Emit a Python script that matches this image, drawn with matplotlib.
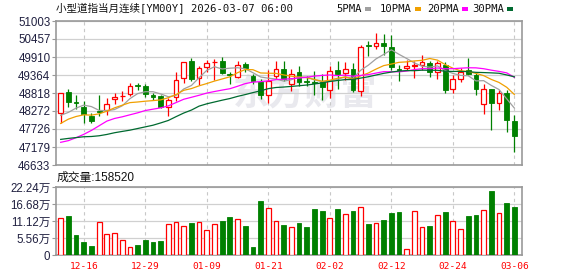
import numpy as np
import matplotlib
matplotlib.use('Agg')
from matplotlib import pyplot as plt
from matplotlib.patches import Rectangle

plt.rcParams['font.family'] = ['Liberation Sans', 'Noto Sans CJK SC']

# daily candles, oldest first
opens = [48196, 48839, 48537, 48407, 48115, 48256, 48296, 48638, 48718, 48799,
         49070, 49020, 48769, 48718, 48397, 48708, 49271, 49774, 49271, 49603,
         49744, 49774, 49402, 49301, 49683, 49321, 49140, 48769, 49331, 49533,
         49080, 49452, 49181, 49151, 49161, 48909, 49502, 49422, 49533, 48889,
         50276, 50236, 50336, 50216, 49543, 49563, 49633, 49663, 49723, 49462,
         49653, 48950, 49251, 49502, 49362, 48487, 48950, 48527, 48809, 47965]
highs = [48829, 48929, 48769, 48568, 48196, 48749, 48658, 48809, 48869, 49130,
         49120, 49080, 48809, 48749, 48678, 49462, 49764, 49884, 49633, 49814,
         49854, 49924, 49452, 49794, 49754, 49382, 49231, 49502, 49804, 49784,
         49542, 49633, 49331, 49482, 49382, 49633, 49784, 49764, 49723, 50286,
         50387, 50638, 50608, 50568, 49653, 49834, 49794, 49985, 49784, 49784,
         49754, 49352, 49583, 49884, 49432, 49100, 48950, 48899, 48899, 48136]
lows = [47894, 48397, 48326, 47905, 47914, 48125, 48156, 48497, 48568, 48728,
        48919, 48698, 48598, 48367, 48125, 48578, 49130, 49171, 49050, 49452,
        49221, 49382, 49080, 49281, 49452, 49100, 48628, 48527, 49231, 49181,
        48879, 49030, 49030, 48749, 48608, 48678, 48929, 49221, 48849, 48728,
        49934, 50145, 49985, 49512, 49181, 49502, 49261, 49502, 49311, 49251,
        48829, 48829, 49161, 49372, 48749, 48186, 47703, 48306, 47643, 47040]
closes = [48829, 48548, 48517, 48176, 47955, 48256, 48497, 48698, 48738, 49040,
          49020, 48789, 48698, 48397, 48618, 49221, 49764, 49231, 49583, 49733,
          49764, 49422, 49352, 49653, 49573, 49171, 48769, 49171, 49533, 49251,
          49382, 49161, 49161, 49130, 49000, 49482, 49382, 49553, 48899, 50216,
          50256, 50336, 50236, 49603, 49522, 49623, 49663, 49744, 49452, 49723,
          48909, 49231, 49452, 49392, 48939, 48950, 48507, 48829, 47985, 47522]
# volume in 万
volumes = [12.0, 12.75, 6.54, 4.25, 2.94, 10.68, 6.76, 7.08, 4.79, 2.5,
           3.27, 4.79, 4.25, 4.58, 10.0, 10.68, 9.37, 10.46, 10.68, 8.06,
           10.0, 11.12, 12.42, 11.66, 9.48, 2.62, 17.65, 15.25, 11.0, 9.8,
           9.15, 10.46, 9.15, 15.04, 14.38, 12.0, 15.04, 13.29, 14.38, 15.58,
           10.13, 10.35, 11.44, 13.73, 14.06, 1.85, 14.28, 9.15, 9.48, 12.97,
           14.06, 11.0, 8.39, 12.75, 13.08, 14.6, 20.92, 13.62, 17.0, 15.852]

ma5 = [48140, 48230, 48360, 48450, 48405, 48290, 48280, 48316, 48429, 48646,
       48799, 48857, 48857, 48789, 48704, 48745, 48940, 49046, 49283, 49506,
       49615, 49547, 49571, 49585, 49553, 49434, 49304, 49267, 49243, 49179,
       49221, 49300, 49298, 49217, 49167, 49187, 49231, 49309, 49263, 49506,
       49661, 49852, 49989, 50129, 49991, 49864, 49729, 49631, 49601, 49641,
       49498, 49412, 49353, 49341, 49185, 49193, 49048, 48923, 48642, 48359]
ma10 = [47894, 48025, 48105, 48156, 48146, 48186, 48266, 48367, 48447, 48526,
        48545, 48569, 48587, 48609, 48675, 48772, 48899, 48952, 49036, 49105,
        49180, 49244, 49309, 49434, 49530, 49525, 49426, 49419, 49414, 49366,
        49328, 49302, 49283, 49230, 49173, 49204, 49266, 49304, 49240, 49337,
        49424, 49542, 49649, 49696, 49749, 49763, 49791, 49810, 49865, 49816,
        49681, 49571, 49492, 49471, 49413, 49346, 49230, 49138, 48992, 48772]
ma20 = [47321, 47372, 47462, 47563, 47683, 47824, 47965, 48045, 48095, 48156,
        48216, 48286, 48327, 48367, 48427, 48527, 48628, 48688, 48749, 48816,
        48863, 48907, 48948, 49022, 49103, 49149, 49163, 49186, 49225, 49236,
        49254, 49273, 49296, 49332, 49352, 49365, 49346, 49362, 49327, 49352,
        49376, 49422, 49466, 49463, 49461, 49484, 49529, 49557, 49553, 49577,
        49553, 49557, 49571, 49584, 49581, 49555, 49511, 49474, 49429, 49294]
ma30 = [47410, 47440, 47465, 47490, 47498, 47520, 47560, 47612, 47652, 47690,
        47740, 47790, 47840, 47910, 47985, 48100, 48210, 48300, 48420, 48490,
        48545, 48600, 48650, 48715, 48770, 48830, 48885, 48950, 48985, 48999,
        49018, 49038, 49060, 49091, 49126, 49167, 49197, 49225, 49230, 49270,
        49311, 49363, 49414, 49453, 49484, 49498, 49495, 49511, 49507, 49507,
        49478, 49472, 49475, 49466, 49445, 49438, 49429, 49417, 49366, 49308]

tick_idx = [3, 11, 19, 27, 35, 43, 51, 59]
tick_labels = ['12-16', '12-29', '01-09', '01-21', '02-02', '02-12', '02-24', '03-06']
price_ticks = [46633, 47179, 47726, 48272, 48818, 49364, 49910, 50457, 51003]
vol_ticks = [0, 5.56, 11.12, 16.68, 22.24]
vol_labels = ['0', '5.56万', '11.12万', '16.68万', '22.24万']

RED = '#ff0000'
GREEN = '#008000'
C5, C10, C20, C30 = '#a0a0a0', '#f0a000', '#ff00ff', '#006a30'
W = 578
H = 276

o = np.array(opens, float)
h = np.array(highs, float)
l = np.array(lows, float)
c = np.array(closes, float)
x = np.arange(len(c))
up = c > o
dn = ~up

fig = plt.figure(figsize=(W / 100, H / 100), dpi=100)
ax = fig.add_axes([56 / W, 1 - 165 / H, 466 / W, 144 / H])
axv = fig.add_axes([56 / W, 1 - 255 / H, 466 / W, 68 / H], sharex=ax)

for a in (ax, axv):
    for s in a.spines.values():
        s.set_color('#999999')
        s.set_linewidth(1.2)
    a.set_xticks(tick_idx)
    a.grid(axis='x', color='#c8c8c8', linestyle=(0, (3, 3)), linewidth=0.8)
    a.grid(axis='y', color='#d0d0d0', linestyle='-', linewidth=0.9)
    a.set_axisbelow(True)
    a.tick_params(axis='x', length=0)
    a.tick_params(axis='y', length=3, color='#999999', labelsize=8.3,
                  labelcolor='#202040', pad=1)

ax.set_xlim(-0.61, 59.99)
ax.set_ylim(price_ticks[0], price_ticks[-1])
ax.set_yticks(price_ticks)
ax.set_yticklabels([str(t) for t in price_ticks])
ax.tick_params(axis='x', labelbottom=False)

ax.text(0.534, 0.49, '东方财富', transform=ax.transAxes, ha='center', va='center',
        fontsize=26, color='#e9e9ee', fontweight='bold',
        family=['Noto Sans CJK SC'], zorder=0)

bw = 0.62
# wicks
ax.vlines(x[dn], l[dn], h[dn], color=GREEN, linewidth=0.9, zorder=2)
ax.vlines(x[up], c[up], h[up], color=RED, linewidth=0.9, zorder=2)
ax.vlines(x[up], l[up], o[up], color=RED, linewidth=0.9, zorder=2)
# bodies
ax.bar(x[up], c[up] - o[up], bottom=o[up], width=bw, facecolor='white',
       edgecolor=RED, linewidth=0.9, zorder=3)
ax.bar(x[dn], np.maximum(o[dn] - c[dn], 8), bottom=c[dn], width=bw,
       facecolor=GREEN, edgecolor=GREEN, linewidth=0.6, zorder=3)

for ma, col in ((ma5, C5), (ma10, C10), (ma20, C20), (ma30, C30)):
    ax.plot(x, ma, color=col, linewidth=0.9, zorder=4)

vup = c >= o
vol = np.array(volumes)
axv.bar(x[vup], vol[vup], width=bw, facecolor='white', edgecolor=RED,
        linewidth=0.9, zorder=3)
axv.bar(x[~vup], vol[~vup], width=bw, facecolor=GREEN, edgecolor=GREEN,
        linewidth=0.6, zorder=3)
axv.set_ylim(0, vol_ticks[-1])
axv.set_yticks(vol_ticks)
axv.set_yticklabels(vol_labels)
axv.set_xticklabels(tick_labels)
axv.tick_params(axis='x', labelsize=6.8, labelcolor=RED, pad=5)
for t in axv.get_xticklabels():
    t.set_family(['DejaVu Sans Mono'])

fig.text(56.5 / W, 1 - 8.5 / H, '小型道指当月连续[YM00Y] 2026-03-07 06:00',
         ha='left', va='center', fontsize=7.6, color='#111111',
         family=['DejaVu Sans Mono', 'Noto Sans CJK SC'])
fig.text(57 / W, 1 - 177.5 / H, '成交量:158520', ha='left', va='center',
         fontsize=8.5, color='#111111')

legend = [('5PMA', 362, C5), ('10PMA', 412, C10), ('20PMA', 459, C20), ('30PMA', 504, C30)]
for name, xe, col in legend:
    fig.text(xe / W, 1 - 8.5 / H, name, ha='right', va='center', fontsize=7.6,
             color='#111111', family=['DejaVu Sans Mono'])
    fig.add_artist(Rectangle(((xe + 3) / W, 1 - 10.5 / H), 6 / W, 3 / H,
                             transform=fig.transFigure, color=col, linewidth=0))

fig.savefig('out.png', dpi=100)
